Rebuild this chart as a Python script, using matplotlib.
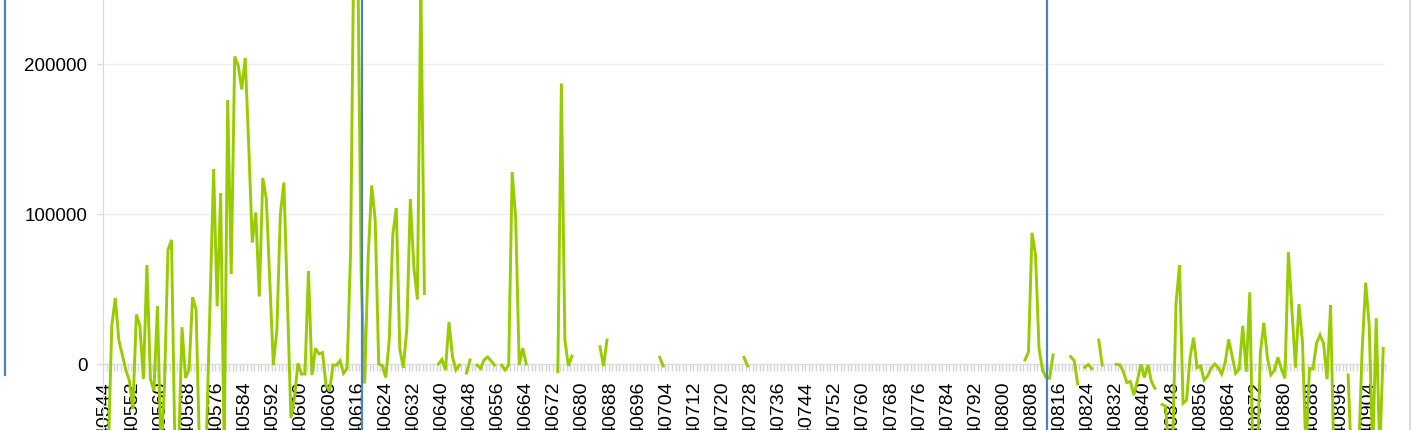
import numpy as np
import matplotlib
matplotlib.use("Agg")
import matplotlib.pyplot as plt
from matplotlib.lines import Line2D

nan = np.nan

# excel date serials, one point per day of 2011
first_day = 40544
last_day = 40908
label_step = 8

jan = [-60000, -60000, 25300, 44000, 16000, 6000, -4000, -11000, -30000, 33000,
       25500, -10000, 66000, -10000, -18000, 38700, -60000, -15000, 76000, 82700,
       -60000, -60000, 24500, -9300, -4000, 44500, 36400, -60000, -60000, -45000,
       42000]
feb = [130000, 38500, 114000, -60000, 176000, 60000, 205000, 199000, 183000, 204000,
       145000, 81000, 101000, 45000, 124000, 110000, 55000, -700, 22700, 100000,
       121000, 42700, -36000, -23000, 400, -6700, -6700, 62000]
mar = [-7300, 10400, 6700, 7600, -14000, -18000, -700, -700, 2200, -6200,
       -2900, 75000, 300000, 280000, 60000, -13000, 71500, 119000, 96000, 0,
       -1000, -9000, 16000, 86000, 104000, 10000, -2500, 23000, 110000, 65000,
       43000]
apr = [255000, 47000, nan, nan, nan, 0, 3000, -4000, 28000, 5000,
       -4000, -700, nan, -6000, 2700, nan, -700, -3000, 2700, 4700,
       2000, -700, nan, -700, -4000, -700, 128000, 97000, -700, 10600]
may = [0] + [nan] * 8 + [-5000, 187000, 16000, -1300, 5300] + [nan] * 7 + \
      [11500, -1300, 16000] + [nan] * 7
jun = [nan] * 7 + [4400, -1300] + [nan] * 21
jul = [nan, 4400, -1300] + [nan] * 28
aug = [nan] * 31
sep = [nan] * 19 + [2700, 8200, 87500, 72700, 10400, -4000, -9000, -9500, 6000, nan, nan]
oct_ = [nan, nan, 4900, 2200, -13300, nan, -2200, -400, -3000, nan,
        16000, -800, nan, nan, nan, -300, -500, -5100, -12400, -11700,
        -20700, -11000, -200, -9000, -600, -11800, -16200, nan, -27000, -28000,
        -60000]
nov = [-60000, 40400, 66000, -26200, -24000, 4400, 17500, -2400, -1300, -10700,
       -8000, -2800, 0, -2400, -6700, 900, 16400, 4900, -6200, -3300,
       25500, -5100, 47800, -80000, -80000, 7100, 27500, 4400, -7300, -4400]
dec = [4400, -3300, -9600, 74500, 36000, -2400, 40000, 14900, -60000, -2900,
       -3300, 13800, 19300, 13800, -10200, 39300, -70000, nan, nan, nan,
       -7300, -70000, -70000, -60000, 10000, 54200, 26000, -60000, 30500, -60000,
       10400]

# blue vertical markers (serial positions)
markers = [40617.3, 40812.3]
side_line = 40515.6

values = np.array(jan + feb + mar + apr + may + jun + jul + aug + sep + oct_ + nov + dec, dtype=float)
days = np.arange(first_day, last_day + 1)

plt.rcParams['font.family'] = ['Liberation Sans', 'DejaVu Sans']

fig = plt.figure(figsize=(14.13, 4.30), dpi=100)
ax = fig.add_axes([103 / 1413, 0, 1282 / 1413, 1])

ax.plot(days, values, color='#99cc00', lw=2.1, solid_joinstyle='miter', zorder=3)

for m in markers:
    ax.axvline(m, color='#4f81bd', lw=1.6, zorder=4)
ax.plot([side_line, side_line], [-7300, 250000], color='#4f81bd', lw=1.6, clip_on=False)

ax.set_xlim(first_day - 0.5, last_day + 0.5)
ax.set_ylim(-44000, 242667)

ax.set_yticks([0, 100000, 200000])
ax.set_yticklabels(['0', '100000', '200000'])
ax.grid(axis='y', color='#efefef', lw=1)
ax.set_axisbelow(True)

lbl = np.arange(first_day, last_day + 1, label_step)
ax.set_xticks(lbl)
ax.set_xticklabels([str(v) for v in lbl])
ax.set_xticks(np.arange(first_day - 0.5, last_day + 1), minor=True)
ax.tick_params(axis='x', which='major', length=0, pad=12.8, labelsize=14, labelrotation=90)
ax.tick_params(axis='x', which='minor', length=5, width=1, color='#d4d4d4')
ax.tick_params(axis='y', length=4.3, width=1, color='#d9d9d9', pad=7, labelsize=13.5)
for t in ax.get_xticklabels():
    t.set_ha('center')
    t.set_va('top')

ax.spines['bottom'].set_position(('data', 0))
ax.spines['bottom'].set_color('#d9d9d9')
ax.spines['left'].set_color('#d9d9d9')
ax.spines['top'].set_visible(False)
ax.spines['right'].set_visible(False)

fig.add_artist(Line2D([1410 / 1413, 1410 / 1413], [0, 1], color='#d9d9d9', lw=1.5))

fig.savefig('out.png', dpi=100)
